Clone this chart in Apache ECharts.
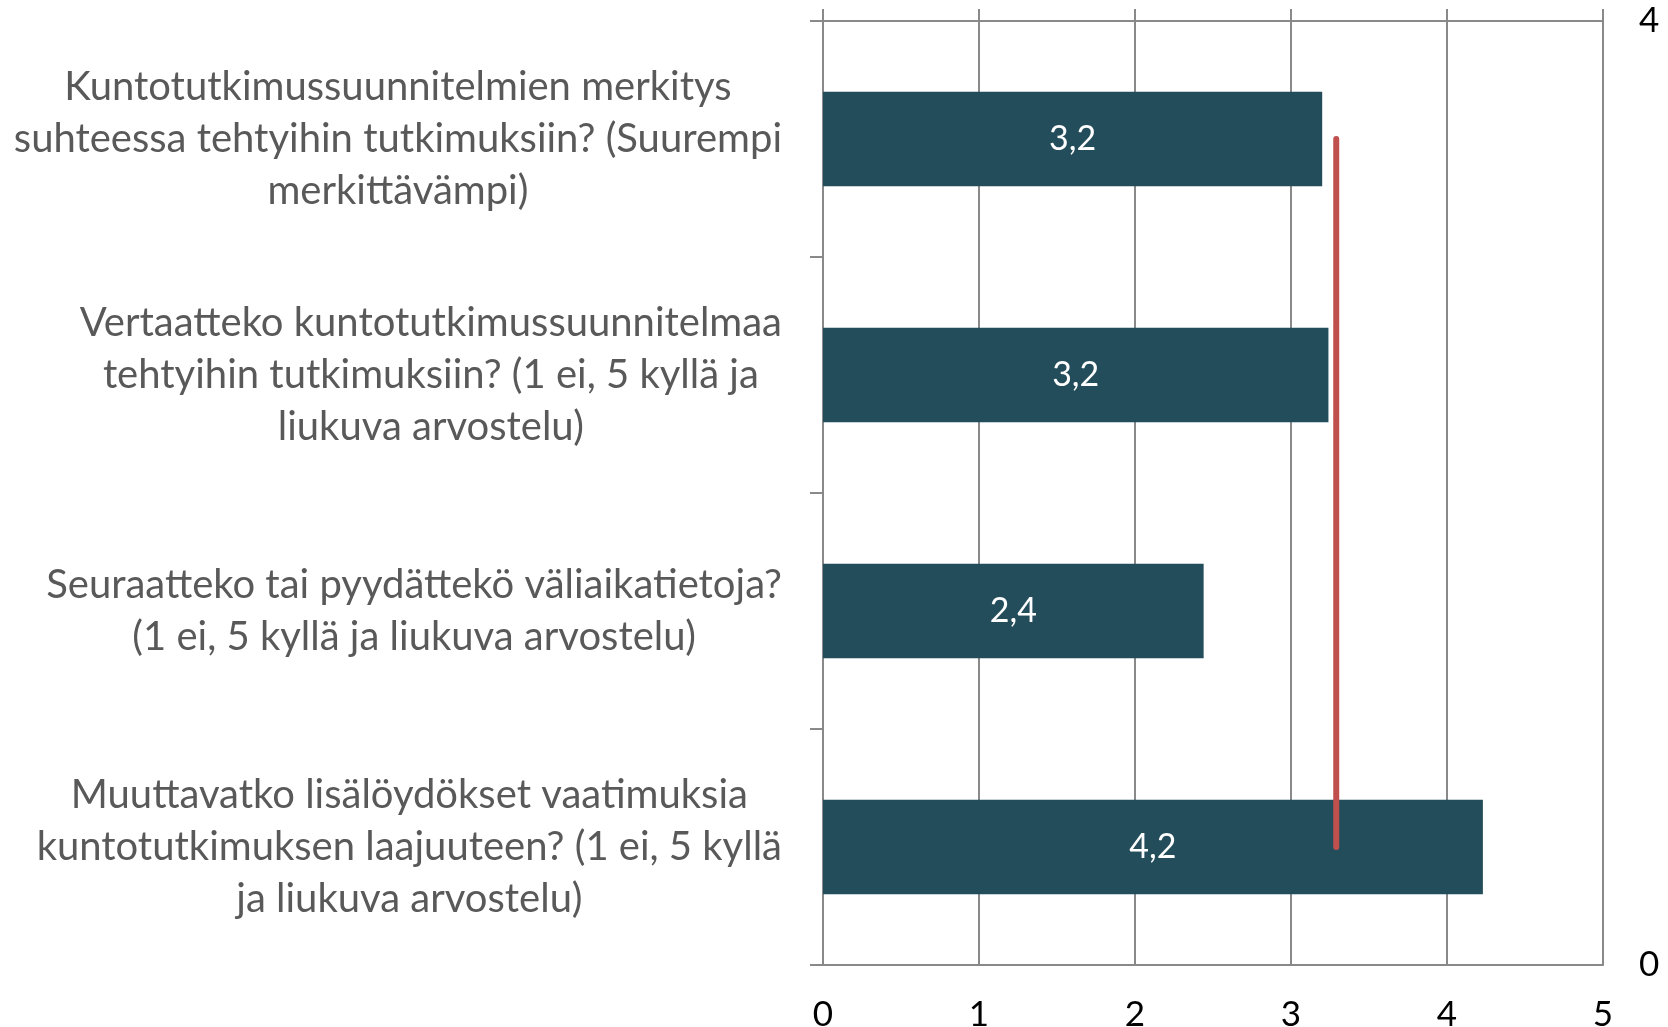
<!DOCTYPE html>
<html>
<head>
<meta charset="utf-8">
<script src="https://cdn.jsdelivr.net/npm/echarts@6/dist/echarts.min.js"></script>
<style>
	html, body { margin: 0; padding: 0; background: #fff; }
	#chart { width: 1668px; height: 1027px; }
</style>
</head>
<body>
<div id="chart"></div>
<script>
// kysymykset ylhäältä alas
const categories = [
	'Kuntotutkimussuunnitelmien merkitys\nsuhteessa tehtyihin tutkimuksiin? (Suurempi\nmerkittävämpi)',
	'Vertaatteko kuntotutkimussuunnitelmaa\ntehtyihin tutkimuksiin? (1 ei, 5 kyllä ja\nliukuva arvostelu)',
	'Seuraatteko tai pyydättekö väliaikatietoja?\n(1 ei, 5 kyllä ja liukuva arvostelu)',
	'Muuttavatko lisälöydökset vaatimuksia\nkuntotutkimuksen laajuuteen? (1 ei, 5 kyllä\nja liukuva arvostelu)'
]
const barValues = [3.2, 3.24, 2.44, 4.23]
// punainen keskiarvoviiva (toissijainen pystyakseli 0-4)
const avgValue = 3.29
const avgLineY = [3.5, 0.5]
const xTicks = [0, 5, 1]
const rightTicks = [0, 4, 4]

const font = 'Lato'
const grey = '#898989'

let myChart = echarts.init(document.getElementById('chart'))
let option = {
	backgroundColor: '#fff',
	animation: false,
	grid: {
		left: 823,
		right: 65,
		top: 21,
		bottom: 62,
		outerBoundsMode: 'none'
	},
	xAxis: [
		{
			type: 'value',
			position: 'bottom',
			min: xTicks[0],
			max: xTicks[1],
			interval: xTicks[2],
			axisLine: { show: true, lineStyle: { color: grey, width: 2 } },
			axisTick: { show: false },
			splitLine: { show: true, lineStyle: { color: grey, width: 2 } },
			axisLabel: {
				color: '#000',
				fontFamily: font,
				fontSize: 35,
				margin: 32
			}
		},
		{
			type: 'value',
			position: 'top',
			min: xTicks[0],
			max: xTicks[1],
			interval: xTicks[2],
			axisLine: { show: true, lineStyle: { color: grey, width: 2 } },
			axisTick: { show: true, inside: false, length: 12, lineStyle: { color: grey, width: 2 } },
			splitLine: { show: false },
			axisLabel: { show: false }
		}
	],
	yAxis: [
		{
			type: 'category',
			inverse: true,
			data: categories,
			axisLine: { show: true, lineStyle: { color: grey, width: 2 } },
			axisTick: { show: true, length: 13, lineStyle: { color: grey, width: 2 } },
			axisLabel: {
				margin: 41,
				align: 'right',
				formatter: (v) => v.split('\n').map((s) => '{c|' + s + '}').join('\n'),
				rich: {
					c: {
						align: 'center',
						color: '#595959',
						fontFamily: font,
						fontSize: 40,
						lineHeight: 52
					}
				}
			}
		},
		{
			type: 'value',
			position: 'right',
			min: rightTicks[0],
			max: rightTicks[1],
			interval: rightTicks[2],
			axisLine: { show: true, lineStyle: { color: grey, width: 2 } },
			axisTick: { show: true, length: 12, lineStyle: { color: grey, width: 2 } },
			splitLine: { show: false },
			axisLabel: {
				color: '#000',
				fontFamily: font,
				fontSize: 35,
				margin: 36
			}
		}
	],
	series: [
		{
			type: 'bar',
			xAxisIndex: 0,
			yAxisIndex: 0,
			barCategoryGap: '60%',
			itemStyle: { color: '#234D5B' },
			label: {
				show: true,
				position: 'inside',
				color: '#fff',
				fontFamily: font,
				fontSize: 34,
				formatter: (p) => p.value.toFixed(1).replace('.', ',')
			},
			data: barValues
		},
		{
			type: 'line',
			xAxisIndex: 0,
			yAxisIndex: 1,
			symbol: 'none',
			lineStyle: { color: '#C0504D', width: 6, cap: 'round' },
			data: avgLineY.map((y) => [avgValue, y]),
			z: 5
		}
	]
}
myChart.setOption(option)
</script>
</body>
</html>
